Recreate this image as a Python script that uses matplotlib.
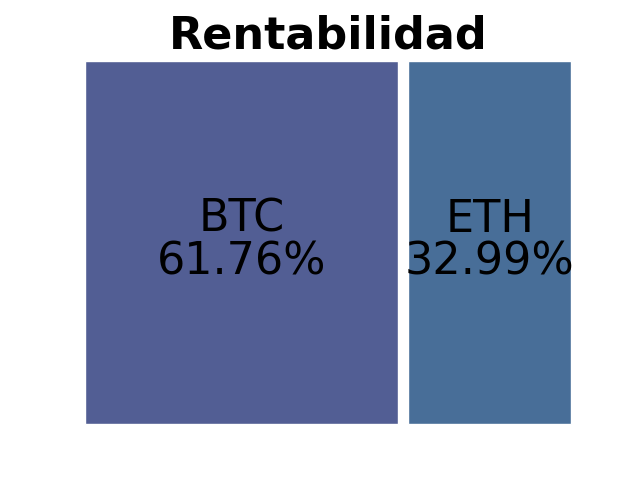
import matplotlib
matplotlib.use("Agg")
import matplotlib.pyplot as plt
from matplotlib.patches import Rectangle

# datos
labels = ["BTC", "ETH"]
values = [61.76, 32.99]
colors = ["#525e94", "#486e98"]

fig, ax = plt.subplots(figsize=(6.4, 4.8), dpi=100)

# treemap simple (dos columnas), ancho proporcional al valor, con padding
total = sum(values)
W, H = 100.0, 100.0
pad = 1.0
x = 0.0
for lab, v, c in zip(labels, values, colors):
    w = W * v / total
    ax.add_patch(Rectangle((x + pad, pad), w - 2 * pad, H - 2 * pad,
                           facecolor=c, edgecolor="white", linewidth=1))
    ax.text(x + w / 2, H / 2 + 0.5, f"{lab}\n{v:.2f}%", ha="center", va="center",
            fontsize=32, linespacing=1.0)
    x += w

ax.set_xlim(0, W)
ax.set_ylim(0, H)
ax.axis("off")
ax.set_title("Rentabilidad", fontsize=32, fontweight="bold")

fig.savefig("out.png")
